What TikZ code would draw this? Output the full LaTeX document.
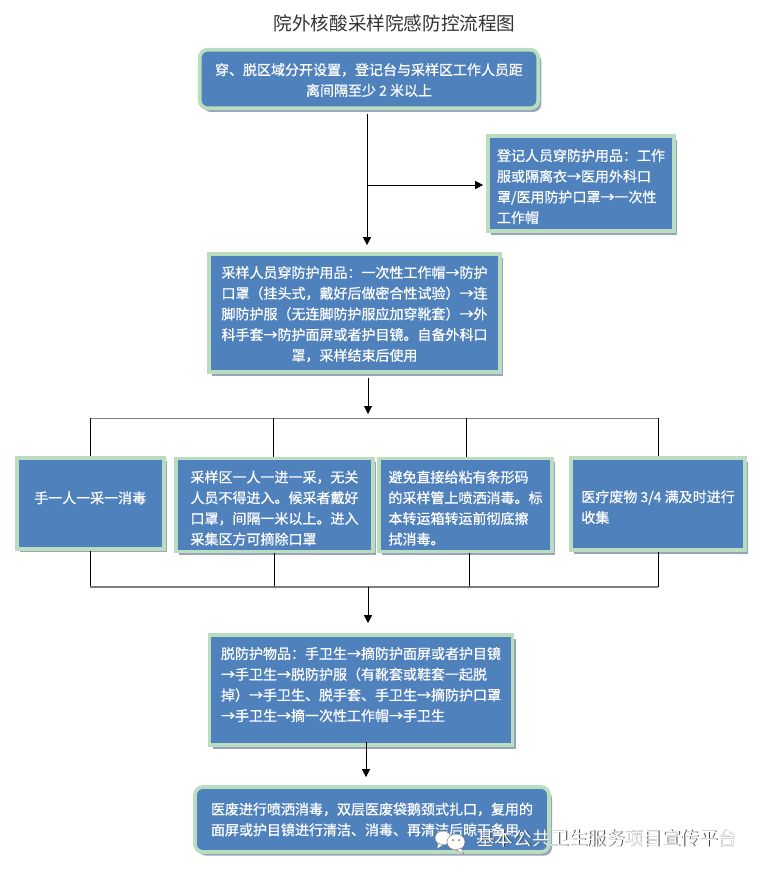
\documentclass[tikz,border=0pt]{standalone}
\usepackage{fontspec}
\setmainfont{Noto Sans CJK SC}
\newfontfamily\boxfont[FakeBold=0.7]{Noto Sans CJK SC}
\usetikzlibrary{arrows.meta,shadows,positioning}
\definecolor{boxblue}{HTML}{4F81BD}
\definecolor{boxgreen}{HTML}{B9DDBE}
\definecolor{boxshade}{HTML}{98A4BC}
\definecolor{busgray}{HTML}{7F7F7F}
% invisible struts, they move the text of a box down or up
\newcommand{\boxdown}[1]{\rule{0pt}{#1pt}}
\newcommand{\boxup}[1]{\rule[-#1pt]{0pt}{0pt}}
\tikzset{
stepbox/.style={draw=boxgreen,line width=3.7pt,fill=boxblue,text=white,align=center,inner sep=0pt,
  font=\boxfont\fontsize{14}{20.7}\selectfont,drop shadow={shadow xshift=3pt,shadow yshift=-3.6pt,opacity=1,fill=boxshade}},
roundbox/.style={stepbox,rounded corners=8pt},
flowline/.style={black,line width=1pt},
flowarrow/.style={flowline,-{Triangle[length=8pt,width=8pt]}},
busline/.style={busgray,line width=1.5pt},
}
\begin{document}
\begin{tikzpicture}[x=1pt,y=-1pt]
\useasboundingbox (0,0) rectangle (762,872);
\node[font=\fontsize{18.6}{20}\selectfont,text=black!80] (title) at (394.5,23) {院外核酸采样院感防控流程图};
%
\node[roundbox,minimum width=338.6pt,minimum height=58.6pt] (wear) at (369,79)
{\boxdown{14}穿、脱区域分开设置，登记台与采样区工作人员距\\离间隔至少 2 米以上};
\node[stepbox,minimum width=186pt,minimum height=95pt,align=left] (clerk) at (581,183.5)
{\boxdown{18}登记人员穿防护用品：工作\\服或隔离衣→医用外科口\\罩/医用防护口罩→一次性\\工作帽};
\node[stepbox,minimum width=291pt,minimum height=118pt] (staff) at (354.5,313)
{\boxdown{14}采样人员穿防护用品：一次性工作帽→防护\\口罩（挂头式，戴好后做密合性试验）→连\\脚防护服（无连脚防护服应加穿靴套）→外\\科手套→防护面屏或者护目镜。自备外科口\\罩，采样结束后使用};
%
\node[stepbox,minimum width=147pt,minimum height=91pt] (hand) at (90.2,503.3) {手一人一采一消毒\boxup{12}};
\node[stepbox,minimum width=197pt,minimum height=93pt,align=left] (zone) at (274.5,505)
{\boxdown{18}采样区一人一进一采，无关\\人员不得进入。候采者戴好\\口罩，间隔一米以上。进入\\采集区方可摘除口罩};
\node[stepbox,minimum width=173.5pt,minimum height=93pt,align=left] (tube) at (465.5,505)
{\boxdown{18}避免直接给粘有条形码\\的采样管上喷洒消毒。标\\本转运箱转运前彻底擦\\拭消毒。};
\node[stepbox,minimum width=174.5pt,minimum height=92pt,align=left] (waste) at (658,504)
{\boxdown{18}医疗废物 3/4 满及时进行\\收集};
%
\node[stepbox,minimum width=303pt,minimum height=110pt,align=left] (doff) at (361,690)
{脱防护物品：手卫生→摘防护面屏或者护目镜\\→手卫生→脱防护服（有靴套或鞋套一起脱\\掉）→手卫生、脱手套、手卫生→摘防护口罩\\→手卫生→摘一次性工作帽→手卫生\boxup{12}};
\node[roundbox,minimum width=354pt,minimum height=65pt,align=left] (final) at (372,819.5)
{医废进行喷洒消毒，双层医废袋鹅颈式扎口，复用的\\面屏或护目镜进行清洁、消毒、再清洁后晾干备用。};
%
\coordinate (split) at (367,185);
\coordinate (drop) at (368,418);
\coordinate (merge) at (368,587);
\coordinate (last) at (366,742);
\foreach \x/\y in {90/a,273/b,466/c,658/d}\coordinate (top\y) at (\x,418);
\foreach \x/\y in {90/a,274/b,469/c,658/d}\coordinate (low\y) at (\x,587);
%
\draw[flowarrow,shorten <=4pt,shorten >=7pt] (wear.south -| split) -- (staff.north -| split);
\draw[flowarrow,shorten >=3pt] (split) -- (clerk.west |- split);
\draw[flowarrow,shorten <=4pt,shorten >=4pt] (staff.south -| drop) -- (drop);
\draw[busline,line width=1pt] (topa) -- (topd);
\foreach \y/\n in {a/hand,b/zone,c/tube,d/waste}\draw[flowline] (top\y) -- (\n.north -| top\y);
\foreach \y/\n in {a/hand,b/zone,c/tube,d/waste}\draw[flowline] (\n.south -| low\y) -- (low\y);
\draw[busline] (lowa) -- (lowd);
\draw[flowarrow,shorten >=10pt] (merge) -- (doff.north -| merge);
\draw[flowarrow,shorten >=8pt] (last) -- (final.north -| last);
%
\begin{scope}[line width=.4pt]
\draw[black!55,fill=white] (443,838) ellipse[x radius=8,y radius=7];
\draw[black!55,fill=white] (438,843) -- (437,849) -- (443,845) -- cycle;
\draw[black!55,fill=white] (456,842) ellipse[x radius=9,y radius=8];
\draw[black!55,fill=white] (461,848) -- (464,854) -- (456,850) -- cycle;
\foreach \x in {453,459}\fill[black!60] (\x,840) circle[radius=1];
\end{scope}
\node[font=\fontsize{18.6}{20}\selectfont,text=black!75] (markshade) at (607.3,838.6) {基本公共卫生服务项目宣传平台};
\node[font=\fontsize{18.6}{20}\selectfont,text=white] (mark) at (606.5,838) {基本公共卫生服务项目宣传平台};
\end{tikzpicture}
\end{document}
